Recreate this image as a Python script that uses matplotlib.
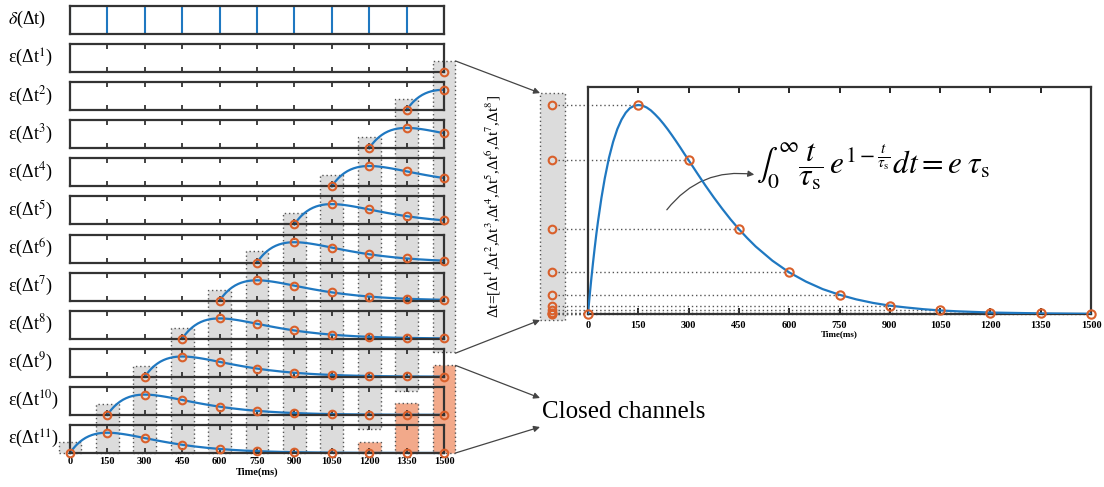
import matplotlib
matplotlib.use('Agg')
import matplotlib.pyplot as plt
from matplotlib.patches import Rectangle, ConnectionPatch

plt.rcParams['font.family'] = ['Liberation Serif', 'DejaVu Serif']
plt.rcParams['mathtext.fontset'] = 'stix'

# sample instants (ms) and the alpha-shaped response
times = [0, 150, 300, 450, 600, 750, 900, 1050, 1200, 1350, 1500]
point_vals = [0.0, 1.0, 0.736, 0.406, 0.199, 0.092, 0.040, 0.017, 0.007, 0.003, 0.001]
curve_t = [0, 2.5, 5, 10, 15, 20, 25, 30, 40, 50, 62.5, 75, 87.5, 100, 112.5, 125, 137.5,
           150, 162.5, 175, 187.5, 200, 212.5, 225, 237.5, 250, 262.5, 275, 287.5, 300,
           325, 350, 375, 400, 425, 450, 475, 500, 550, 600, 650, 700, 750, 800, 850,
           900, 950, 1000, 1050, 1100, 1200, 1350, 1500]
curve_v = [0.0, 0.045, 0.088, 0.170, 0.246, 0.317, 0.384, 0.445, 0.555, 0.649, 0.747,
           0.824, 0.885, 0.930, 0.963, 0.985, 0.996, 1.0, 0.997, 0.988, 0.974, 0.955,
           0.934, 0.910, 0.884, 0.856, 0.827, 0.797, 0.766, 0.736, 0.675, 0.615, 0.558,
           0.504, 0.453, 0.406, 0.363, 0.323, 0.255, 0.199, 0.155, 0.119, 0.092, 0.070,
           0.053, 0.040, 0.031, 0.023, 0.017, 0.013, 0.007, 0.003, 0.001]
row_labels = ['$\\delta$(\u0394t)'] + ['\u03b5(\u0394t$^{%d}$)' % k for k in range(1, 12)]
window = 8                                   # length of the delta-t vector
closed_rows = [0, 0, 0, 0, 0, 0, 0, 0, 1, 2, 3]  # closed channels per column
window_label = '\u0394t=[' + ','.join('\u0394t$^{%d}$' % k for k in range(1, window + 1)) + ']'
formula = (r'$\int_0^{\infty}\dfrac{t}{\tau_{\mathrm{s}}}\,e^{1-\frac{t}{\tau_{\mathrm{s}}}}'
           r'dt = e\;\tau_{\mathrm{s}}$')

BLUE = '#1f78c1'
ORANGE = '#d9602b'
GRAY = '#dcdcdc'
SALMON = '#f2a98a'
EDGE = '#333333'

W, H = 1104, 487
fig = plt.figure(figsize=(W / 100, H / 100), dpi=100)


def px_axes(x0, y0, x1, y1, **kw):
    return fig.add_axes([x0 / W, 1 - y1 / H, (x1 - x0) / W, (y1 - y0) / H], **kw)


# ---- left panel geometry (pixels)
X0, X1 = 70, 444
PITCH, STRIP_H, BOTTOM = 38.1, 28, 453
n_rows = len(row_labels)
top_units = (n_rows - 1) + STRIP_H / PITCH

bg = px_axes(X0, BOTTOM - top_units * PITCH, X1, BOTTOM)
bg.set_xlim(0, 1500)
bg.set_ylim(0, top_units)
bg.axis('off')

bar_w = 92
for j, t in enumerate(times):
    n_gray = min(j + 1, window)
    top = j + 0.29
    bottom = j - n_gray + 1
    if closed_rows[j]:
        bottom -= 0.36
    bg.add_patch(Rectangle((t - bar_w / 2, bottom), bar_w, top - bottom, facecolor=GRAY,
                           edgecolor='#555555', linestyle=(0, (1, 2)), linewidth=1,
                           clip_on=False))
    if closed_rows[j]:
        otop = closed_rows[j] - 1 + 0.30
        bg.add_patch(Rectangle((t - bar_w / 2, 0), bar_w, otop, facecolor=SALMON,
                               edgecolor='#555555', linestyle=(0, (1, 2)), linewidth=1,
                               clip_on=False))

for r in range(n_rows):
    yb = BOTTOM - (n_rows - 1 - r) * PITCH
    ax = px_axes(X0, yb - STRIP_H, X1, yb)
    ax.set_facecolor('none')
    ax.set_xlim(0, 1500)
    if r == 0:
        ax.set_ylim(0, 1)
        ax.vlines(times, 0, 1, color=BLUE, linewidth=1.5)
    else:
        ax.set_ylim(0, 1.38)
        start = (n_rows - 1 - r) * 150
        ct = [start + t for t in curve_t if start + t <= 1500]
        ax.plot(ct, curve_v[:len(ct)], color=BLUE, linewidth=1.6, clip_on=False)
        pt = [start + t for t in times if start + t <= 1500]
        ax.plot(pt, point_vals[:len(pt)], 'o', mfc='none', mec=ORANGE, mew=1.5,
                markersize=5.5, clip_on=False, zorder=5)
    ax.set_xticks(times)
    ax.set_yticks([])
    ax.tick_params(axis='x', direction='in', top=True, bottom=True, length=3.5,
                   width=1.2, color='#222222', labelbottom=(r == n_rows - 1),
                   labelsize=7.5, pad=3)
    for s in ax.spines.values():
        s.set_linewidth(1.6)
        s.set_color(EDGE)
    ax.annotate(row_labels[r], xy=(0, 0.5), xycoords='axes fraction',
                xytext=(-62, 0), textcoords='offset pixels', ha='left', va='center',
                fontsize=13)
    if r == n_rows - 1:
        for lab in ax.get_xticklabels():
            lab.set_fontweight('bold')
        ax.set_xlabel('Time(ms)', fontsize=7.5, fontweight='bold', labelpad=1)

# ---- right panel
axr = px_axes(588, 87, 1091, 314)
axr.set_xlim(0, 1500)
axr.set_ylim(0, 1.086)
axr.plot(curve_t, curve_v, color=BLUE, linewidth=1.6, zorder=4)
axr.plot(times, point_vals, 'o', mfc='none', mec=ORANGE, mew=1.5, markersize=6,
         clip_on=False, zorder=5)
for t, v in zip(times, point_vals):
    axr.plot([-90, t], [v, v], linestyle=(0, (1, 2)), color='#555555', linewidth=1,
             clip_on=False, zorder=2)
axr.add_patch(Rectangle((-143, -0.029), 74, 1.086, facecolor=GRAY, edgecolor='#555555',
                        linestyle=(0, (1, 2)), linewidth=1, clip_on=False, zorder=1))
axr.plot([-107] * len(point_vals), point_vals, 'o', mfc='none', mec=ORANGE, mew=1.5,
         markersize=5.5, clip_on=False, zorder=5)
axr.set_xticks(times)
axr.set_yticks([])
axr.tick_params(axis='x', direction='in', top=True, bottom=True, length=4, width=1.2,
                labelsize=7.5, pad=5)
for lab in axr.get_xticklabels():
    lab.set_fontweight('bold')
axr.set_xlabel('Time(ms)', fontsize=6.5, fontweight='bold', labelpad=0.5)
for s in axr.spines.values():
    s.set_linewidth(1.6)
    s.set_color(EDGE)

axr.text(850, 0.705, formula, fontsize=22.5, ha='center', va='center')
axr.annotate('', xy=(504, 0.665), xytext=(230, 0.488),
             arrowprops=dict(arrowstyle='-|>', connectionstyle='arc3,rad=-0.3',
                             color='#444444', lw=0.9, mutation_scale=9))

fig.text(493 / W, 1 - 207 / H, window_label, rotation=90, ha='center', va='center',
         fontsize=11)

# ---- connectors
arrow_kw = dict(arrowstyle='-|>', color='#444444', lw=0.9, mutation_scale=9)
for ya, yb in [(10.29, 1.057), (2.62, -0.029)]:
    fig.add_artist(ConnectionPatch(xyA=(1546, ya), coordsA=bg.transData,
                                   xyB=(-143, yb), coordsB=axr.transData, **arrow_kw))
fig.text(542 / W, 1 - 412 / H, 'Closed channels', fontsize=18, ha='left', va='center')
for ya, yb in [(2.30, 398), (0, 427)]:
    fig.add_artist(ConnectionPatch(xyA=(1546, ya), coordsA=bg.transData,
                                   xyB=(540, H - yb), coordsB='figure pixels', **arrow_kw))

fig.savefig('out.png', dpi=100)
